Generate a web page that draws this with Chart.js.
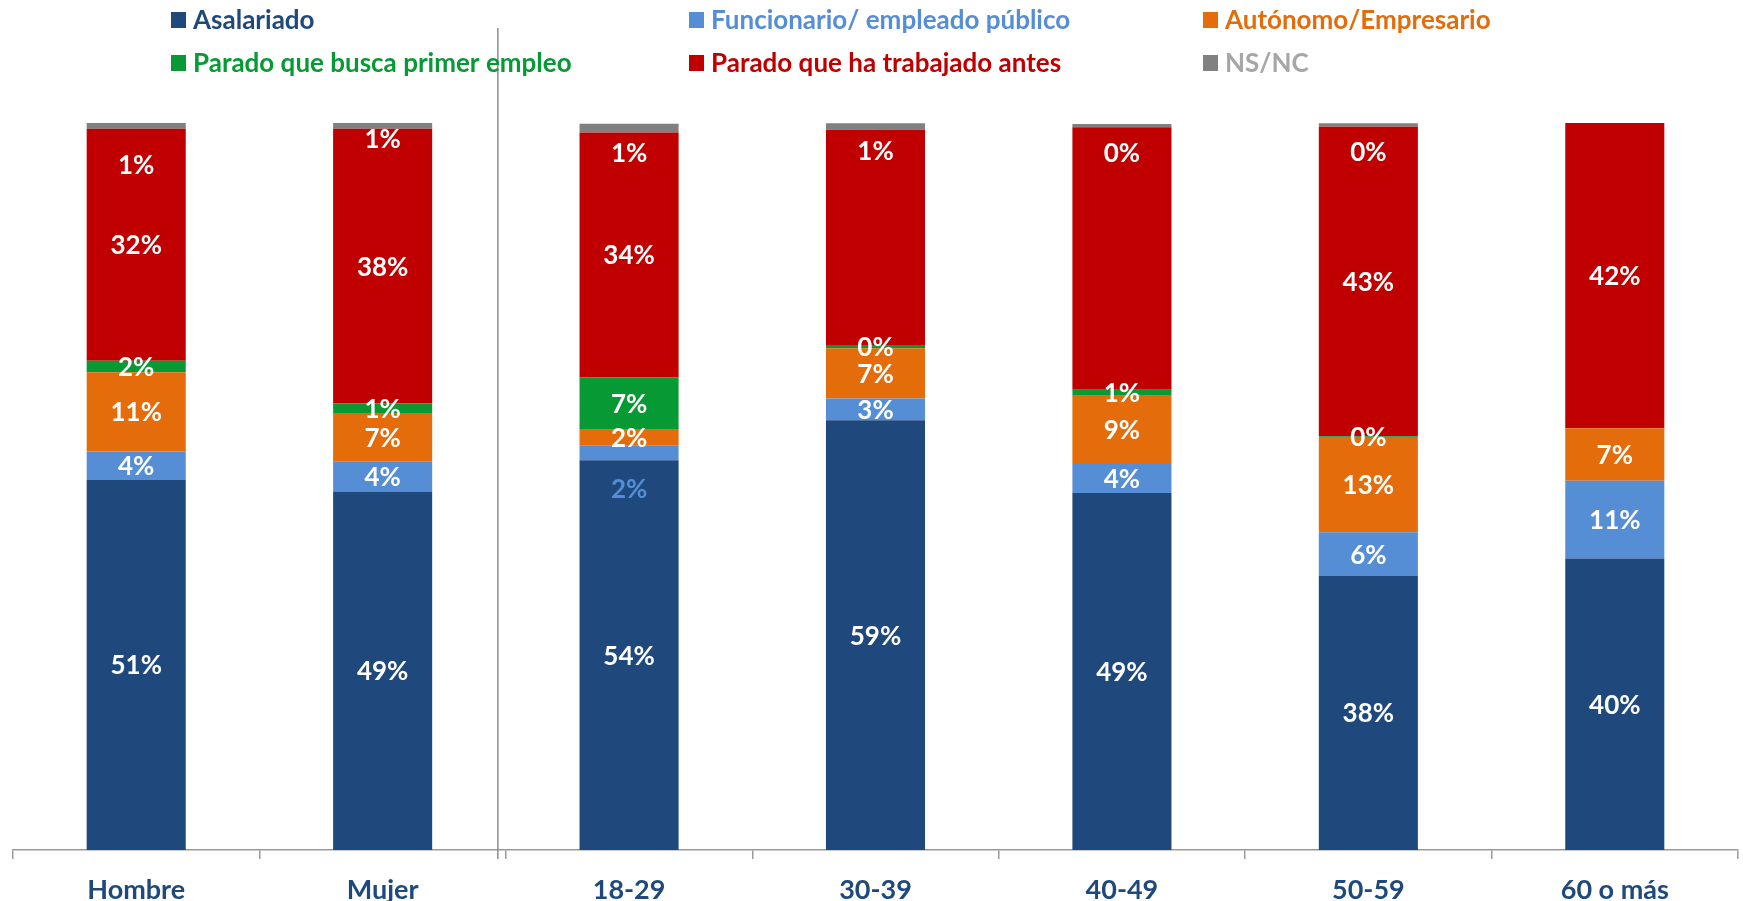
<!DOCTYPE html>
<html><head><meta charset="utf-8">
<script src="https://cdn.jsdelivr.net/npm/chart.js@4/dist/chart.umd.min.js"></script>
<style>html,body{margin:0;padding:0;background:#fff;}canvas{display:block;}</style>
</head><body>
<canvas id="c" width="1743" height="901"></canvas>
<script>
// ---- data ----
const categories = ["Hombre", "Mujer", "18-29", "30-39", "40-49", "50-59", "60 o más"];
const seriesNames = ["Asalariado", "Funcionario/ empleado público", "Autónomo/Empresario",
                     "Parado que busca primer empleo", "Parado que ha trabajado antes", "NS/NC"];
const asalariado   = [50.9, 49.3, 53.6, 59.1, 49.1, 37.7, 40.1];
const funcionario  = [3.9, 4.1, 2.0, 3.0, 4.0, 6.0, 10.7];
const autonomo     = [10.9, 6.7, 2.2, 6.9, 9.4, 13.1, 7.2];
const paradoPrimer = [1.6, 1.3, 7.2, 0.46, 0.8, 0.1, null];
const paradoAntes  = [31.9, 37.8, 33.7, 29.6, 36.1, 42.6, 42.0];
const nsnc         = [0.8, 0.8, 1.2, 0.9, 0.46, 0.45, null];

// ---- styling ----
const colors = ["#1F497D", "#558ED5", "#E46C0A", "#079A34", "#C00000", "#808080"];
const legendTextColors = ["#1F497D", "#558ED5", "#E46C0A", "#079A34", "#C00000", "#A6A6A6"];
const FONT = "Lato";
const hiddenLabels = [[4, 3], [4, 4]];          // [series, category] labels not shown
const nsncLabelOffset = [39, 13, 25, 24, 27, 27, 0]; // px below the NS/NC segment
const specialLabels = { "1-2": { dy: 36, color: "#558ED5" } };

const allSeries = [asalariado, funcionario, autonomo, paradoPrimer, paradoAntes, nsnc];

const labelPlugin = {
  id: 'segLabels',
  afterDatasetsDraw(chart) {
    const ctx = chart.ctx;
    ctx.save();
    ctx.font = `bold 26px ${FONT}`;
    ctx.textAlign = 'center';
    ctx.textBaseline = 'middle';
    chart.data.datasets.forEach((ds, di) => {
      const meta = chart.getDatasetMeta(di);
      meta.data.forEach((bar, i) => {
        const v = ds.data[i];
        if (v === null || v === undefined) return;
        if (hiddenLabels.some(h => h[0] === di && h[1] === i)) return;
        let cy = (bar.y + bar.base) / 2;
        let color = '#FFFFFF';
        if (di === 5) cy += nsncLabelOffset[i];
        const sp = specialLabels[di + '-' + i];
        if (sp) { cy += sp.dy; color = sp.color; }
        ctx.fillStyle = color;
        ctx.fillText(Math.round(v) + '%', bar.x, cy + 1);
      });
    });
    ctx.restore();
  }
};

const decorPlugin = {
  id: 'decor',
  afterDraw(chart) {
    const ctx = chart.ctx;
    const xs = chart.scales.x;
    ctx.save();
    // separator between sex and age groups
    const bx = (xs.getPixelForValue(1) + xs.getPixelForValue(2)) / 2 - 8;
    ctx.strokeStyle = '#8C8C8C';
    ctx.lineWidth = 1.5;
    ctx.beginPath();
    ctx.moveTo(bx, 28);
    ctx.lineTo(bx, 859);
    ctx.stroke();
    // legend, 3 columns x 2 rows
    const colX = [171, 689, 1203];
    const rowY = [20, 63];
    ctx.font = `bold 26px ${FONT}`;
    ctx.textBaseline = 'middle';
    ctx.textAlign = 'left';
    seriesNames.forEach((name, k) => {
      const x = colX[k % 3], y = rowY[Math.floor(k / 3)];
      ctx.fillStyle = colors[k];
      ctx.fillRect(x, y - 8, 15, 16);
      ctx.fillStyle = legendTextColors[k];
      ctx.fillText(name, x + 22, y + 1);
    });
    ctx.restore();
  }
};

function build() {
  new Chart(document.getElementById('c'), {
    type: 'bar',
    data: {
      labels: categories,
      datasets: allSeries.map((d, k) => ({
        label: seriesNames[k],
        data: d,
        backgroundColor: colors[k],
        borderWidth: 0,
        barPercentage: 0.402,
        categoryPercentage: 1.0
      }))
    },
    options: {
      responsive: false,
      animation: false,
      devicePixelRatio: 1,
      layout: { padding: { top: 123, left: 13, right: 5, bottom: 0 } },
      plugins: { legend: { display: false }, tooltip: { enabled: false } },
      scales: {
        x: {
          stacked: true,
          grid: { display: true, drawOnChartArea: false, drawTicks: true, tickLength: 9,
                  color: '#9A9A9A', lineWidth: 1.5, offset: true },
          border: { display: true, color: '#9A9A9A', width: 1.5 },
          ticks: { color: '#1F497D', font: { family: FONT, weight: 'bold', size: 27 },
                   padding: 15, maxRotation: 0, autoSkip: false },
          afterFit(s) { s.height = 51; }
        },
        y: { stacked: true, display: false, min: 0, max: 100 }
      }
    },
    plugins: [labelPlugin, decorPlugin]
  });
}
if (document.fonts && document.fonts.load) {
  Promise.all([document.fonts.load(`bold 26px ${FONT}`)]).then(build, build);
} else build();
</script>
</body></html>
